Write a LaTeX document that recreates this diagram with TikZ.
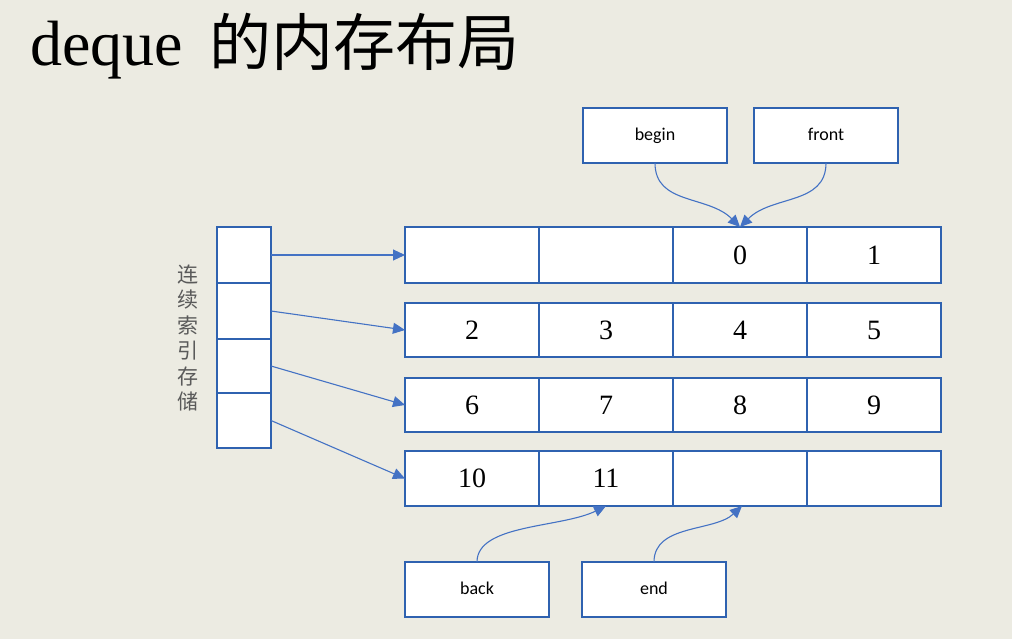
\documentclass[tikz,border=0pt]{standalone}
\usepackage{fontspec}
\usetikzlibrary{arrows.meta,backgrounds}
\setmainfont{Liberation Serif}
\newfontfamily\cjkfont{Noto Sans CJK SC}
\newfontfamily\labelfont{Carlito}
\definecolor{bgcol}{HTML}{ECEBE2}
\definecolor{boxblue}{HTML}{2F62B0}
\definecolor{arrblue}{HTML}{4472C4}
\definecolor{sidegray}{HTML}{5A5A5A}
\tikzset{
  cellbox/.style={draw=boxblue, line width=2pt, minimum width=134pt,
    inner sep=0pt, outer sep=0pt, font=\fontsize{28}{30}\selectfont},
  idxbox/.style={draw=boxblue, line width=2pt, minimum width=54pt,
    inner sep=0pt, outer sep=0pt},
  ptrbox/.style={draw=boxblue, line width=2pt, fill=white, minimum width=144pt,
    minimum height=55pt, inner sep=0pt, outer sep=0pt, text height=13pt, text depth=3pt,
    font=\labelfont\fontsize{18}{20}\selectfont},
  link/.style={draw=arrblue, line width=1.1pt, -{Triangle[length=12pt,width=11pt]}},
}
\begin{document}
\begin{tikzpicture}[x=1pt,y=1pt]
  \useasboundingbox (0,0) rectangle (1012,-639);

  % title
  \node[anchor=base west, inner sep=0pt] (title) at (30,-66)
    {\fontsize{64}{70}\selectfont deque\hspace{26pt}{\cjkfont\fontsize{62}{66}\selectfont 的内存布局}};

  % side caption
  \node[align=center, inner sep=0pt, text=sidegray, font=\cjkfont\fontsize{21}{25.5}\selectfont] (caption) at (188,-338)
    {连\\续\\索\\引\\存\\储};

  % index array
  \node[idxbox, minimum height=56pt] (i1) at (244,-255) {};
  \node[idxbox, minimum height=56pt] (i2) at (244,-311) {};
  \node[idxbox, minimum height=54pt] (i3) at (244,-366) {};
  \node[idxbox, minimum height=55pt] (i4) at (244,-420.5) {};

  % storage blocks
  \foreach \r/\y/\h in {1/255/56,2/330/54,3/405/54,4/478.5/55}{
    \foreach \c in {1,...,4}{
      \node[cellbox, minimum height=\h pt] (r\r c\c) at ({405+(\c-0.5)*134},-\y) {};
    }
  }
  % white fill under the arrays, canvas below everything
  \begin{scope}[on background layer]
    \fill[bgcol] (0,0) rectangle (1012,-639);
    \fill[white] (i1.north west) rectangle (i4.south east);
    \foreach \r in {1,...,4}{
      \fill[white] (r\r c1.north west) rectangle (r\r c4.south east);
    }
  \end{scope}

  % element values
  \node at (r1c3) {\fontsize{28}{30}\selectfont 0};
  \node at (r1c4) {\fontsize{28}{30}\selectfont 1};
  \node at (r2c1) {\fontsize{28}{30}\selectfont 2};
  \node at (r2c2) {\fontsize{28}{30}\selectfont 3};
  \node at (r2c3) {\fontsize{28}{30}\selectfont 4};
  \node at (r2c4) {\fontsize{28}{30}\selectfont 5};
  \node at (r3c1) {\fontsize{28}{30}\selectfont 6};
  \node at (r3c2) {\fontsize{28}{30}\selectfont 7};
  \node at (r3c3) {\fontsize{28}{30}\selectfont 8};
  \node at (r3c4) {\fontsize{28}{30}\selectfont 9};
  \node at (r4c1) {\fontsize{28}{30}\selectfont 10};
  \node at (r4c2) {\fontsize{28}{30}\selectfont 11};

  % index pointers
  \draw[link] (i1.east) -- (r1c1.west);
  \draw[link] (i2.east) -- (r2c1.west);
  \draw[link] (i3.east) -- (r3c1.west);
  \draw[link] (i4.east) -- (r4c1.west);

  % iterators
  \node[ptrbox] (begin) at (655,-135.5) {begin};
  \node[ptrbox] (front) at (826,-135.5) {front};
  \node[ptrbox] (back) at (477,-589.5) {back};
  \node[ptrbox] (end) at (654,-589.5) {end};

  \draw[link] (begin.south) .. controls +(0,-42) and +(-32,32) .. (r1c3.north);
  \draw[link] (front.south) .. controls +(0,-42) and +(32,32) .. (r1c3.north);
  \draw[link] (back.north) .. controls +(0,38) and +(-45,-22) .. (r4c2.south);
  \draw[link] (end.north) .. controls +(0,38) and +(-28,-26) .. ([xshift=2pt]r4c3.south);
\end{tikzpicture}
\end{document}
